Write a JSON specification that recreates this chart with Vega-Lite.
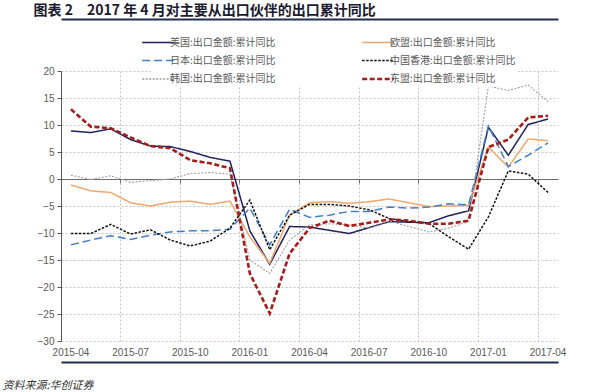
{
  "$schema": "https://vega.github.io/schema/vega-lite/v6.json",
  "width": 497,
  "height": 270,
  "autosize": {"type": "none"},
  "padding": {"left": 61, "top": 71, "right": 42, "bottom": 51},
  "background": "white",
  "config": {"view": {"stroke": null}, "font": "Liberation Sans"},
  "data": {"values": [
    {"month": "2015-04", "美国": 8.9, "欧盟": -1.1, "日本": -12.2, "中国香港": -10.1, "韩国": 0.7, "东盟": 12.9},
    {"month": "2015-05", "美国": 8.6, "欧盟": -2.2, "日本": -11.3, "中国香港": -10.1, "韩国": -0.1, "东盟": 9.7},
    {"month": "2015-06", "美国": 9.3, "欧盟": -2.5, "日本": -10.5, "中国香港": -8.4, "韩国": 0.6, "东盟": 9.4},
    {"month": "2015-07", "美国": 7.3, "欧盟": -4.4, "日本": -11.2, "中国香港": -10.2, "韩国": -0.6, "东盟": 7.7},
    {"month": "2015-08", "美国": 6.1, "欧盟": -5.0, "日本": -10.4, "中国香港": -9.4, "韩国": -0.3, "东盟": 6.1},
    {"month": "2015-09", "美国": 6.0, "欧盟": -4.3, "日本": -9.8, "中国香港": -11.3, "韩国": 0.0, "东盟": 5.7},
    {"month": "2015-10", "美国": 5.1, "欧盟": -4.1, "日本": -9.6, "中国香港": -12.4, "韩国": 1.0, "东盟": 3.5},
    {"month": "2015-11", "美国": 4.0, "欧盟": -4.7, "日本": -9.6, "中国香港": -11.5, "韩国": 1.2, "东盟": 2.9},
    {"month": "2015-12", "美国": 3.3, "欧盟": -4.1, "日本": -9.3, "中国香港": -9.1, "韩国": 0.9, "东盟": 2.0},
    {"month": "2016-01", "美国": -9.6, "欧盟": -10.7, "日本": -5.4, "中国香港": -3.9, "韩国": -15.0, "东盟": -17.5},
    {"month": "2016-02", "美国": -15.8, "欧盟": -15.6, "日本": -12.2, "中国香港": -13.1, "韩国": -17.5, "东盟": -24.9},
    {"month": "2016-03", "美国": -8.8, "欧盟": -6.7, "日本": -5.6, "中国香港": -6.7, "韩国": -11.3, "东盟": -13.8},
    {"month": "2016-04", "美国": -8.9, "欧盟": -4.4, "日本": -7.1, "中国香港": -4.7, "韩国": -8.5, "东盟": -9.1},
    {"month": "2016-05", "美国": -9.5, "欧盟": -4.2, "日本": -6.7, "中国香港": -4.7, "韩国": -8.3, "东盟": -7.7},
    {"month": "2016-06", "美国": -10.1, "欧盟": -4.5, "日本": -6.0, "中国香港": -5.0, "韩国": -8.5, "东盟": -8.7},
    {"month": "2016-07", "美国": -9.0, "欧盟": -4.2, "日本": -6.0, "中国香港": -5.7, "韩国": -9.1, "东盟": -8.1},
    {"month": "2016-08", "美国": -7.9, "欧盟": -3.7, "日本": -5.2, "中国香港": -7.3, "韩国": -7.8, "东盟": -7.5},
    {"month": "2016-09", "美国": -8.0, "欧盟": -4.4, "日本": -5.4, "中国香港": -7.9, "韩国": -8.8, "东盟": -7.7},
    {"month": "2016-10", "美国": -8.1, "欧盟": -5.1, "日本": -5.2, "中国香港": -8.2, "韩国": -9.8, "东盟": -8.3},
    {"month": "2016-11", "美国": -6.8, "欧盟": -5.0, "日本": -4.6, "中国香港": -10.7, "韩国": -9.1, "东盟": -8.3},
    {"month": "2016-12", "美国": -5.9, "欧盟": -4.9, "日本": -4.8, "中国香港": -13.0, "韩国": -7.9, "东盟": -7.7},
    {"month": "2017-01", "美国": 9.6, "欧盟": 5.9, "日本": 9.8, "中国香港": -7.0, "韩国": 17.2, "东盟": 5.9},
    {"month": "2017-02", "美国": 4.4, "欧盟": 2.2, "日本": 2.3, "中国香港": 1.5, "韩国": 16.4, "东盟": 7.3},
    {"month": "2017-03", "美国": 10.1, "欧盟": 7.4, "日本": 4.4, "中国香港": 0.9, "韩国": 17.4, "东盟": 11.4},
    {"month": "2017-04", "美国": 11.1, "欧盟": 7.1, "日本": 6.7, "中国香港": -2.5, "韩国": 14.3, "东盟": 11.7}
  ]},
  "transform": [{"fold": ["美国", "欧盟", "日本", "中国香港", "韩国", "东盟"], "as": ["series", "value"]}],
  "layer": [
    {
      "mark": {"type": "point", "opacity": 0},
      "encoding": {
        "x": {"field": "month", "type": "ordinal", "scale": {"type": "band", "paddingInner": 0, "paddingOuter": 0},
          "axis": {"orient": "bottom", "values": ["2015-07", "2015-10", "2016-01", "2016-04", "2016-07", "2016-10", "2017-01", "2017-04"],
            "bandPosition": 0, "grid": true, "gridDash": [2, 2], "gridColor": "#C4C4C4", "labels": false, "ticks": false, "domain": false, "title": null}}
      }
    },
    {
      "mark": {"type": "point", "opacity": 0},
      "encoding": {
        "x": {"field": "month", "type": "ordinal",
          "axis": {"orient": "bottom", "values": ["2015-07", "2015-10", "2016-01", "2016-04", "2016-07", "2016-10", "2017-01", "2017-04"],
            "bandPosition": 0, "offset": -162, "grid": false, "labels": false, "ticks": true, "tickSize": 4, "tickColor": "#6d6d6d", "domain": true, "domainColor": "#6d6d6d", "domainWidth": 1.2, "title": null}}
      }
    },
    {
      "mark": {"type": "point", "opacity": 0},
      "encoding": {
        "x": {"field": "month", "type": "ordinal",
          "axis": {"orient": "top", "offset": 52, "grid": false, "labels": false, "ticks": false, "domain": true, "domainColor": "#1F2F4F", "domainWidth": 2,
            "title": "图表 2　2017 年 4 月对主要从出口伙伴的出口累计同比", "titleX": -28, "titleY": -5, "titleAlign": "left", "titleBaseline": "alphabetic", "titleAngle": 0,
            "titleFont": "Noto Sans CJK SC", "titleFontSize": 14, "titleFontWeight": "bold", "titleColor": "#1b1b2f"}}
      }
    },
    {
      "mark": {"type": "point", "opacity": 0},
      "encoding": {
        "x": {"field": "month", "type": "ordinal",
          "axis": {"orient": "bottom", "offset": 21, "grid": false, "labels": false, "ticks": false, "domain": true, "domainColor": "#1F2F4F", "domainWidth": 2,
            "title": "资料来源:华创证券", "titleX": -59, "titleY": 26, "titleAlign": "left", "titleBaseline": "alphabetic", "titleAngle": 0,
            "titleFont": "Noto Sans CJK SC", "titleFontSize": 11, "titleFontWeight": "normal", "titleFontStyle": "italic", "titleColor": "#333333"}}
      }
    },
    {
      "mark": {"type": "line"},
      "encoding": {
        "x": {"field": "month", "type": "ordinal",
          "axis": {"orient": "bottom", "values": ["2015-04", "2015-07", "2015-10", "2016-01", "2016-04", "2016-07", "2016-10", "2017-01", "2017-04"],
            "labelAngle": 0, "labelFontSize": 10, "labelColor": "#595959", "labelPadding": 6, "ticks": false, "domain": false, "grid": false, "title": null}},
        "y": {"field": "value", "type": "quantitative", "scale": {"domain": [-30, 20], "nice": false, "zero": false},
          "axis": {"values": [-30, -25, -20, -15, -10, -5, 0, 5, 10, 15, 20], "title": null, "grid": true, "gridDash": [2, 2], "gridColor": "#C4C4C4",
            "domainColor": "#595959", "tickColor": "#595959", "tickSize": 4, "labelColor": "#595959", "labelFontSize": 10, "labelPadding": 3}},
        "color": {"field": "series", "type": "nominal",
          "scale": {"domain": ["美国", "日本", "韩国", "欧盟", "中国香港", "东盟"], "range": ["#1F1F5E", "#3F7FCB", "#9E9E9E", "#F2A66A", "#111111", "#A51C1C"]},
          "legend": {"orient": "none", "legendX": 90, "legendY": -36, "columns": 2, "title": null, "symbolType": "stroke", "symbolSize": 1000,
            "labelFontSize": 10, "labelColor": "#595959", "labelFont": "Noto Sans CJK SC", "labelOffset": 7, "columnPadding": 60, "rowPadding": 6.5, "gridAlign": "all",
            "fillColor": "white", "padding": 2, "labelLimit": 300, "symbolStrokeWidth": 1.5,
            "labelExpr": "datum.label + ':出口金额:累计同比'",
            "encode": {"symbols": {"update": {"strokeWidth": {"signal": "datum.value === '东盟' ? 2.6 : 1.5"}}}}}},
        "strokeDash": {"field": "series", "type": "nominal",
          "scale": {"domain": ["美国", "日本", "韩国", "欧盟", "中国香港", "东盟"], "range": [[1, 0], [8, 4], [2, 1.5], [1, 0], [2.5, 1.5], [5, 2.5]]}},
        "strokeWidth": {"condition": [{"test": "datum.series === '东盟'", "value": 2.6}, {"test": "datum.series === '韩国'", "value": 1.1}], "value": 1.5}
      }
    }
  ],
  "resolve": {"axis": {"x": "independent"}}
}
